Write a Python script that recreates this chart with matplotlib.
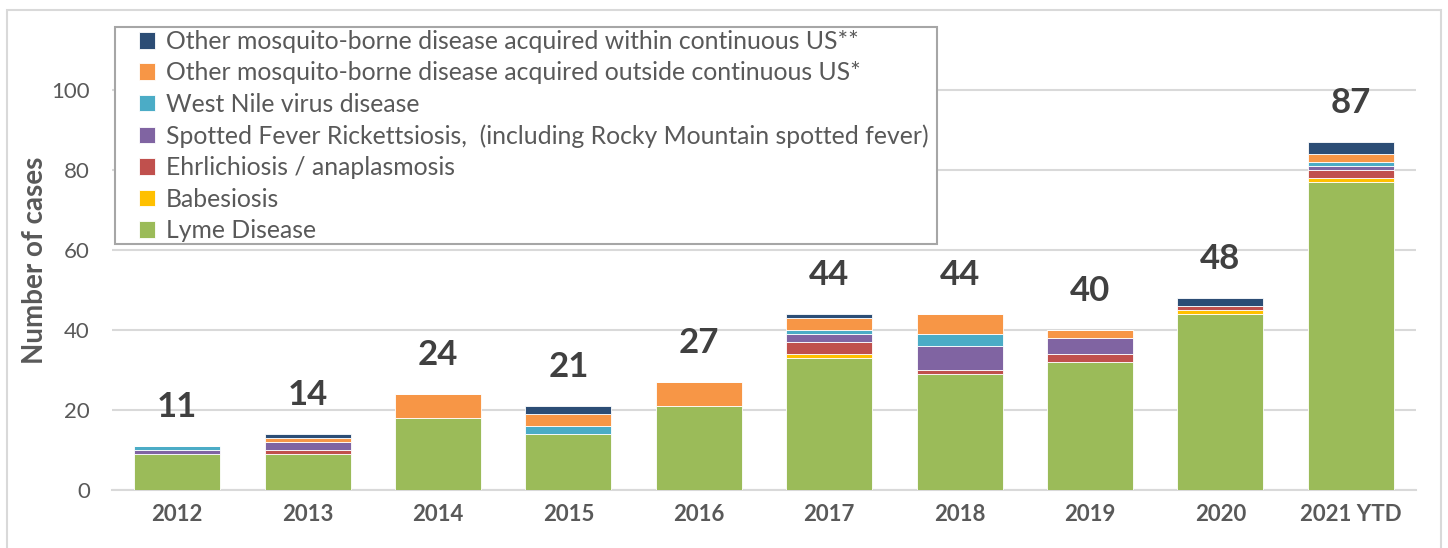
import matplotlib
matplotlib.use("Agg")
import matplotlib.pyplot as plt
from matplotlib.patches import Rectangle

# Data:
years = ["2012", "2013", "2014", "2015", "2016", "2017", "2018", "2019", "2020", "2021 YTD"]
lyme = [9, 9, 18, 14, 21, 33, 29, 32, 44, 77]
babesiosis = [0, 0, 0, 0, 0, 1, 0, 0, 1, 1]
ehrlichiosis = [0, 1, 0, 0, 0, 3, 1, 2, 1, 2]
spotted_fever = [1, 2, 0, 0, 0, 2, 6, 4, 0, 1]
west_nile = [1, 0, 0, 2, 0, 1, 3, 0, 0, 1]
mosq_outside = [0, 1, 6, 3, 6, 3, 5, 2, 0, 2]
mosq_within = [0, 1, 0, 2, 0, 1, 0, 0, 2, 3]
totals = [11, 14, 24, 21, 27, 44, 44, 40, 48, 87]

series = [
    ("Lyme Disease", lyme, "#9BBB59"),
    ("Babesiosis", babesiosis, "#FFC000"),
    ("Ehrlichiosis / anaplasmosis", ehrlichiosis, "#C0504D"),
    ("Spotted Fever Rickettsiosis,  (including Rocky Mountain spotted fever)", spotted_fever, "#8064A2"),
    ("West Nile virus disease", west_nile, "#4BACC6"),
    ("Other mosquito-borne disease acquired outside continuous US*", mosq_outside, "#F79646"),
    ("Other mosquito-borne disease acquired within continuous US**", mosq_within, "#2C4D75"),
]

plt.rcParams['font.family'] = ['Lato', 'DejaVu Sans']

W, H = 1448, 548
fig = plt.figure(figsize=(W / 100, H / 100), dpi=100)
ax = fig.add_axes([112 / W, 58 / H, (1416 - 112) / W, (490 - 30) / H])

# Outer chart border
fig.patches.append(Rectangle((7 / W, -0.05), (1441 - 7) / W, 1.05 - 10 / H,
                             transform=fig.transFigure, fill=False,
                             edgecolor="#D9D9D9", linewidth=1.5))

x = list(range(len(years)))
bottom = [0] * len(years)
handles = []
for label, vals, color in series:
    b = ax.bar(x, vals, width=0.66, bottom=bottom, color=color,
               edgecolor="white", linewidth=0.6, label=label, zorder=3)
    handles.append(b)
    bottom = [bt + v for bt, v in zip(bottom, vals)]

for xi, t in zip(x, totals):
    ax.text(xi, t + 9.7, str(t), ha="center", va="center", fontsize=25,
            fontweight="bold", color="#404040")

ax.set_xlim(-0.5, len(years) - 0.5)
ax.set_ylim(0, 115)
ax.set_yticks([0, 20, 40, 60, 80, 100])
ax.set_xticks(x)
ax.set_xticklabels(years, fontsize=16, fontweight="bold", color="#595959")
ax.tick_params(axis="y", labelsize=16, labelcolor="#595959", length=0, pad=16)
ax.tick_params(axis="x", length=0, pad=10)
ax.grid(axis="y", color="#D9D9D9", linewidth=1.5, zorder=0)
for s in ["top", "right", "left"]:
    ax.spines[s].set_visible(False)
ax.spines["bottom"].set_color("#D9D9D9")
ax.spines["bottom"].set_linewidth(1.5)
ax.set_ylabel("Number of cases", fontsize=20, fontweight="bold", color="#595959", labelpad=2)

# Legend frame drawn separately so the inner padding can match
ax.add_patch(Rectangle((115 / W, 1 - 244 / H), (937 - 115) / W, (244 - 27) / H,
                       transform=fig.transFigure, facecolor="white", clip_on=False,
                       edgecolor="#A6A6A6", linewidth=1.5, zorder=4))
leg = ax.legend(handles[::-1], [s[0] for s in series][::-1], loc="upper left",
                bbox_to_anchor=(139 / W, 1 - 30 / H), bbox_transform=fig.transFigure,
                borderaxespad=0, fontsize=17.8, frameon=False,
                handlelength=0.65, handleheight=0.65, handletextpad=0.45,
                labelspacing=0.34, borderpad=0.0, labelcolor="#595959")
leg.set_zorder(5)

fig.savefig("out.png", dpi=100)
